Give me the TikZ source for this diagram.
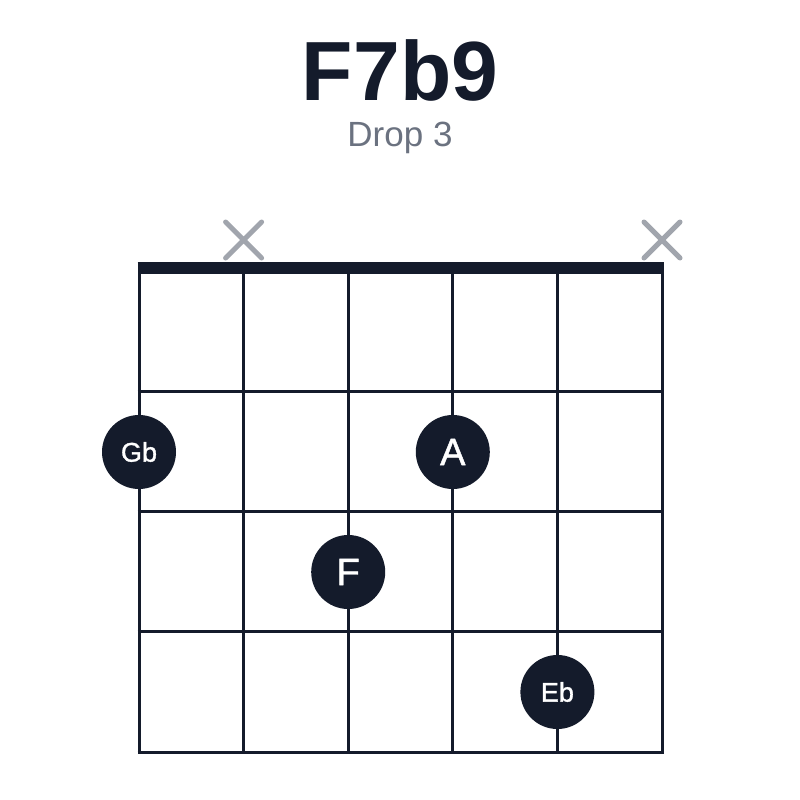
\documentclass[tikz,border=0pt]{standalone}
\usepackage{fontspec}
\setmainfont{Liberation Sans}
\newfontfamily\notefont[FakeBold=1.2]{Liberation Sans}
\definecolor{ink}{HTML}{141B2B}
\definecolor{mute}{HTML}{A1A5AD}
\definecolor{sub}{HTML}{6B7280}
\tikzset{
	finger/.style={circle, fill=ink, text=white, minimum size=74pt, inner sep=0pt},
	mutemark/.style={draw=mute, line width=5pt, line cap=round}
}
\begin{document}
\begin{tikzpicture}[x=1pt, y=-1pt]
		\useasboundingbox[fill=white] (0,0) rectangle (800,800);
		%Titel
		\node[anchor=base, text=ink, font=\fontsize{84}{90}\bfseries\selectfont] (title) at (400,100) {F7b9};
		\node[anchor=base, text=sub, font=\fontsize{35}{40}\selectfont] (voicing) at (400,146) {Drop 3};
		%Griffbrett
		\foreach \s in {0,...,5}
			\draw[ink, line width=3pt] (139+104.6*\s,268) -- (139+104.6*\s,752);
		\foreach \f in {1,...,4}
			\draw[ink, line width=3pt] (137.5,271.5+120.15*\f) -- (663.5,271.5+120.15*\f);
		\draw[ink, line width=12pt] (137.5,268) -- (663.5,268);
		%Leersaiten
		\foreach \s in {1,5}
			\draw[mutemark] (139+104.6*\s-18,222) -- ++(36,36) ++(0,-36) -- ++(-36,36);
		%Finger
		\node[finger, font=\notefont\fontsize{27}{30}\selectfont] (gb) at (139,452) {Gb};
		\node[finger, font=\notefont\fontsize{38}{40}\selectfont] (a) at (452.8,452) {A};
		\node[finger, font=\notefont\fontsize{38}{40}\selectfont] (f) at (348.2,572) {F};
		\node[finger, font=\notefont\fontsize{27}{30}\selectfont] (eb) at (557.4,692) {Eb};
	\end{tikzpicture}
\end{document}
